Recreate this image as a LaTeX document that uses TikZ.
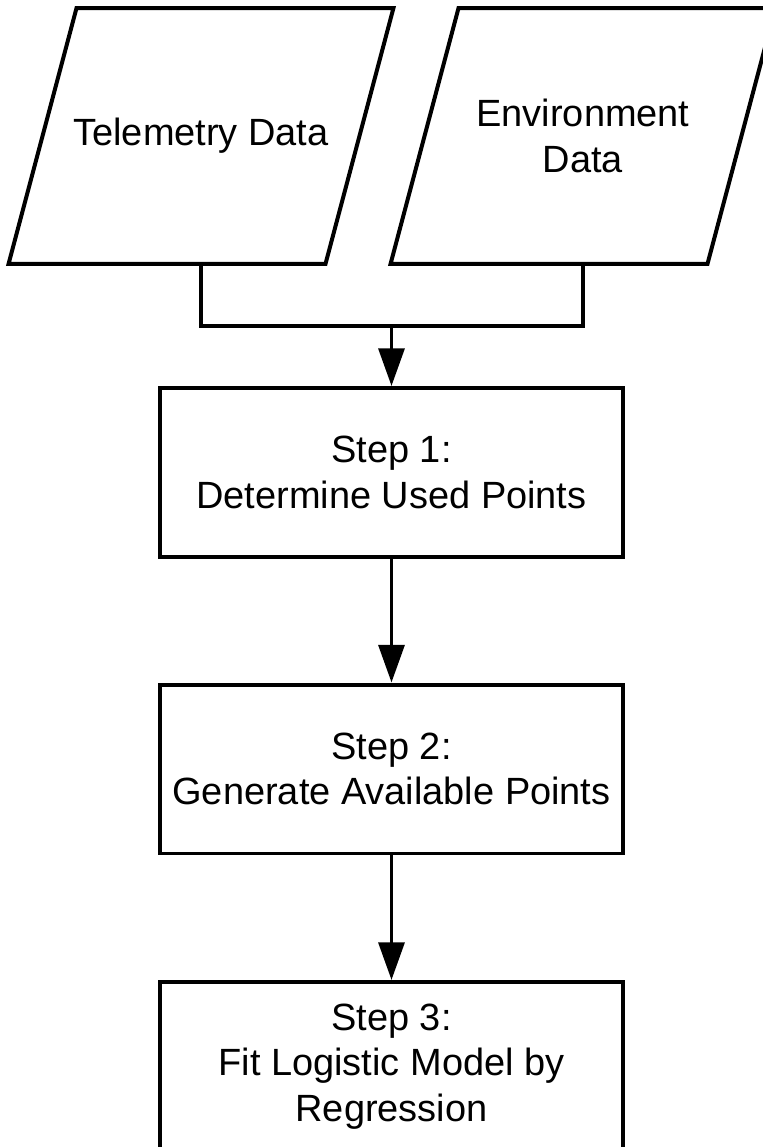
\documentclass[tikz,border=0pt]{standalone}
\usepackage{fontspec}
\setmainfont{Liberation Sans}
\usetikzlibrary{arrows.meta}

\begin{document}
\begin{tikzpicture}[x=0.02cm,y=-0.02cm,
  every node/.style={font=\fontsize{21.6}{25.8}\selectfont},
  inbox/.style={rectangle,minimum width=6.26cm,minimum height=5.04cm,align=center,inner sep=0pt,line width=2.27pt},
  stepbox/.style={draw,line width=2.27pt,rectangle,minimum width=9.26cm,minimum height=3.38cm,align=center},
  link/.style={line width=2.27pt},
  arr/.style={link,-{Triangle[width=14.7pt,length=21.5pt]}}]
%\draw[lightgray,very thin] (0,0) grid (762,1147);
\useasboundingbox (0,0) rectangle (762,1147);
\node[inbox] (tele) at (201,136) {Telemetry Data};
\node[inbox] (env) at (583,136) {Environment\\Data};
% slanted outlines of the two inputs
\foreach \n in {tele,env}
  \draw[link] ([xshift=-0.68cm]\n.south west) -- ([xshift=-0.68cm]\n.south east)
    -- ([xshift=0.68cm]\n.north east) -- ([xshift=0.68cm]\n.north west) -- cycle;
\node[stepbox] (s1) at (391.5,472.5) {Step 1:\\Determine Used Points};
\node[stepbox] (s2) at (391.5,769) {Step 2:\\Generate Available Points};
\node[stepbox] (s3) at (391.5,1066.5) {Step 3:\\Fit Logistic Model by\\Regression};
\coordinate (merge) at (391.5,326);
\draw[link] (tele.south) |- (merge) -| (env.south);
\draw[arr] (merge) -- (s1);
\draw[arr] (s1) -- (s2);
\draw[arr] (s2) -- (s3);
\end{tikzpicture}
\end{document}
